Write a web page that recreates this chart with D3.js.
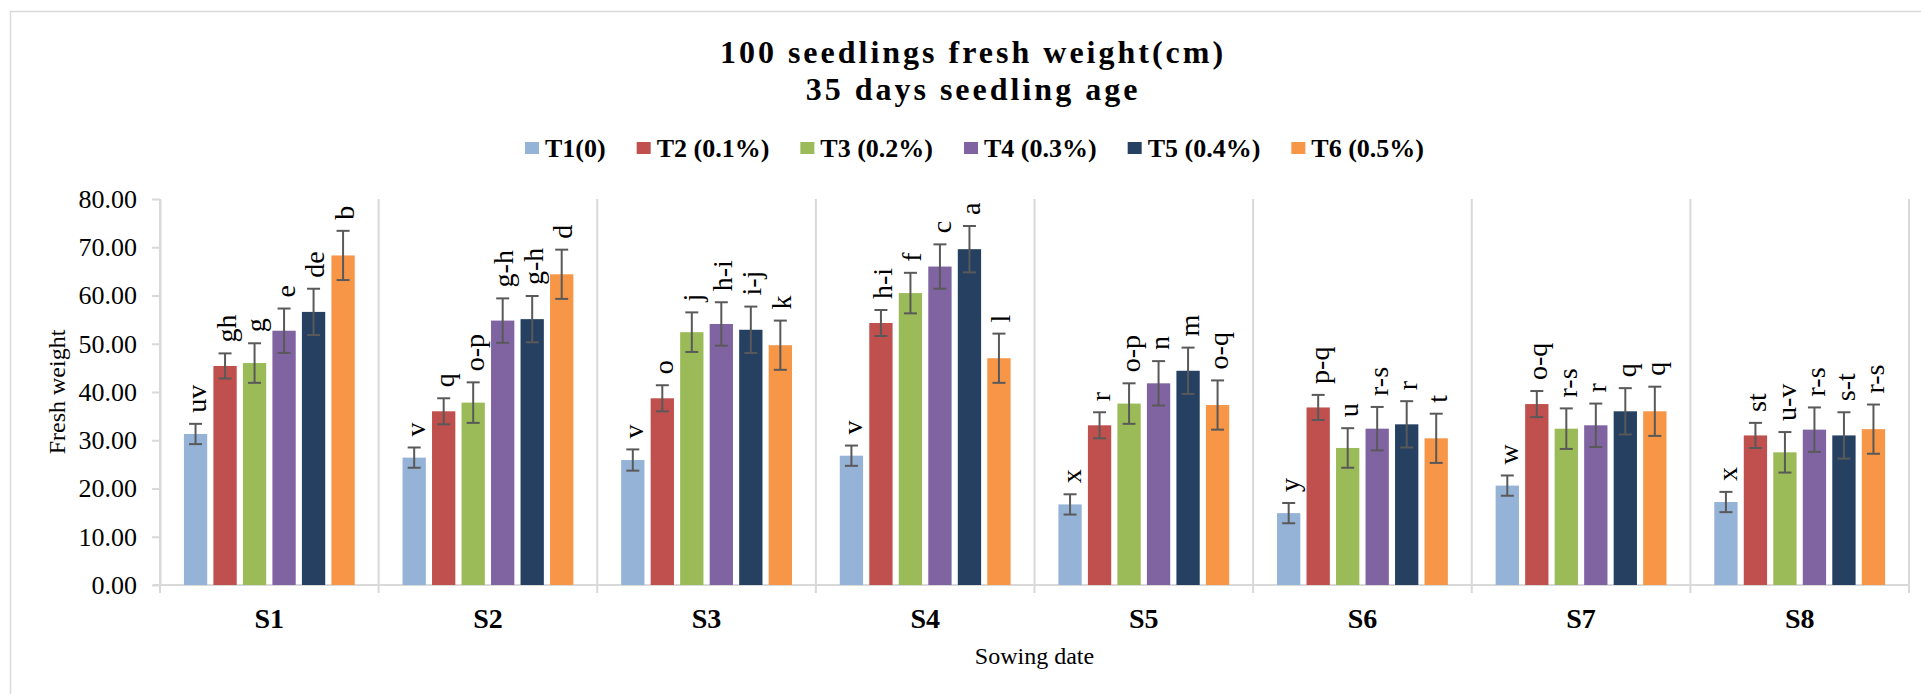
<!DOCTYPE html>
<html>
<head>
<meta charset="utf-8">
<script src="https://cdnjs.cloudflare.com/ajax/libs/d3/7.8.5/d3.min.js"></script>
<style>
  body { margin: 0; background: #fff; }
  svg text { font-family: "Liberation Serif", "Times New Roman", serif; fill: #000; }
</style>
</head>
<body>
<div id="chart"></div>
<script>
// sowing dates and treatments
var categories = ["S1", "S2", "S3", "S4", "S5", "S6", "S7", "S8"];
var seriesNames = ["T1(0)", "T2 (0.1%)", "T3 (0.2%)", "T4 (0.3%)", "T5 (0.4%)", "T6 (0.5%)"];
var colors = ["#95b3d7", "#c0504d", "#9bbb59", "#8064a2", "#254061", "#f79646"];

// fresh weight per treatment, one value per sowing date
var t1 = [31.3, 26.4, 25.9, 26.8, 16.7, 14.9, 20.6, 17.2];
var t2 = [45.4, 36.0, 38.7, 54.3, 33.1, 36.8, 37.5, 31.0];
var t3 = [46.0, 37.8, 52.4, 60.5, 37.6, 28.4, 32.4, 27.5];
var t4 = [52.7, 54.8, 54.1, 66.0, 41.8, 32.4, 33.1, 32.2];
var t5 = [56.6, 55.1, 52.9, 69.6, 44.4, 33.3, 36.0, 31.0];
var t6 = [68.3, 64.4, 49.7, 47.0, 37.3, 30.4, 36.0, 32.3];

// error bar half lengths
var e1 = [2.1, 2.1, 2.2, 2.1, 2.1, 2.1, 2.1, 2.1];
var e2 = [2.6, 2.7, 2.7, 2.7, 2.7, 2.6, 2.7, 2.6];
var e3 = [4.1, 4.2, 4.1, 4.2, 4.2, 4.1, 4.2, 4.2];
var e4 = [4.6, 4.6, 4.5, 4.6, 4.6, 4.5, 4.5, 4.6];
var e5 = [4.8, 4.8, 4.8, 4.8, 4.8, 4.8, 4.8, 4.8];
var e6 = [5.1, 5.1, 5.1, 5.1, 5.1, 5.1, 5.1, 5.1];

// significance letters
var l1 = ["uv", "v", "v", "v", "x", "y", "w", "x"];
var l2 = ["gh", "q", "o", "h-i", "r", "p-q", "o-q", "st"];
var l3 = ["g", "o-p", "j", "f", "o-p", "u", "r-s", "u-v"];
var l4 = ["e", "g-h", "h-i", "c", "n", "r-s", "r", "r-s"];
var l5 = ["de", "g-h", "i-j", "a", "m", "r", "q", "s-t"];
var l6 = ["b", "d", "k", "l", "o-q", "t", "q", "r-s"];

var yTicks = [0, 10, 20, 30, 40, 50, 60, 70, 80];

var values = [t1, t2, t3, t4, t5, t6];
var errors = [e1, e2, e3, e4, e5, e6];
var letters = [l1, l2, l3, l4, l5, l6];

var svgWidth = 1921;
var svgHeight = 694;

var margin = { top: 199, right: 12, bottom: 109, left: 160 };
var width = svgWidth - margin.left - margin.right;
var height = svgHeight - margin.top - margin.bottom;

var serif = "'Liberation Serif', 'Times New Roman', serif";

var svg = d3.select("#chart")
  .append("svg")
  .attr("width", svgWidth)
  .attr("height", svgHeight)
  .attr("font-family", serif);

// chart border
svg.append("rect")
  .attr("x", 10.5)
  .attr("y", 11.5)
  .attr("width", 1930)
  .attr("height", 700)
  .attr("fill", "#fff")
  .attr("stroke", "#d9d9d9")
  .attr("stroke-width", 1.5);

// title
var title = svg.append("text")
  .attr("text-anchor", "middle")
  .style("font-family", serif)
  .style("font-size", "32px")
  .style("font-weight", "bold")
  .style("letter-spacing", "3px");
title.append("tspan").attr("x", 973).attr("y", 63).text("100 seedlings fresh weight(cm)");
title.append("tspan").attr("x", 973).attr("y", 100).text("35 days seedling age");

// legend
var legend = svg.append("g").attr("transform", "translate(525, 148)");
var lx = 0;
seriesNames.forEach(function(name, i) {
  var item = legend.append("g").attr("transform", `translate(${lx}, 0)`);
  item.append("rect")
    .attr("x", 0)
    .attr("y", -6)
    .attr("width", 14)
    .attr("height", 12)
    .attr("fill", colors[i]);
  var t = item.append("text")
    .attr("x", 20)
    .attr("y", 9)
    .style("font-family", serif)
    .style("font-size", "26px")
    .style("font-weight", "bold")
    .text(name);
  lx += 20 + t.node().getComputedTextLength() + 31;
});

var chartGroup = svg.append("g")
  .attr("transform", `translate(${margin.left}, ${margin.top})`);

// scales
var x0 = d3.scaleBand()
  .domain(categories)
  .range([0, width]);

var x1 = d3.scaleBand()
  .domain(d3.range(seriesNames.length))
  .range([0, x0.bandwidth()])
  .paddingInner(0.21)
  .paddingOuter(0.81);

var yLinearScale = d3.scaleLinear()
  .domain([0, 80])
  .range([height, 0]);

// category separators
var seps = categories.map(d => x0(d)).concat([width]);
chartGroup.selectAll(".sep")
  .data(seps)
  .enter()
  .append("line")
  .attr("x1", d => d)
  .attr("x2", d => d)
  .attr("y1", 0)
  .attr("y2", height + 8)
  .attr("stroke", "#d9d9d9")
  .attr("stroke-width", 2);

// x axis line
chartGroup.append("line")
  .attr("x1", -7)
  .attr("x2", width)
  .attr("y1", height)
  .attr("y2", height)
  .attr("stroke", "#d9d9d9")
  .attr("stroke-width", 2);

// y axis
var leftAxis = d3.axisLeft(yLinearScale)
  .tickValues(yTicks)
  .tickFormat(d3.format(".2f"))
  .tickSize(8)
  .tickSizeOuter(0)
  .tickPadding(15);

var yAxis = chartGroup.append("g").call(leftAxis).attr("font-family", serif);
yAxis.select(".domain").attr("stroke", "#d9d9d9").attr("stroke-width", 2);
yAxis.selectAll(".tick line").attr("stroke", "#d9d9d9").attr("stroke-width", 2);
yAxis.selectAll(".tick text")
  .style("font-size", "26px")
  .style("font-family", serif)
  .attr("fill", "#000");

// category labels
chartGroup.selectAll(".cat")
  .data(categories)
  .enter()
  .append("text")
  .attr("x", d => x0(d) + x0.bandwidth() / 2)
  .attr("y", height + 43)
  .attr("text-anchor", "middle")
  .style("font-size", "28px")
  .style("font-weight", "bold")
  .text(d => d);

// axis titles
chartGroup.append("text")
  .attr("x", width / 2)
  .attr("y", height + 79)
  .attr("text-anchor", "middle")
  .style("font-size", "24px")
  .text("Sowing date");

chartGroup.append("text")
  .attr("transform", `translate(${65 - margin.left}, ${height / 2}) rotate(-90)`)
  .attr("text-anchor", "middle")
  .style("font-size", "24px")
  .text("Fresh weight");

// bars, error bars and letters
var flat = [];
categories.forEach(function(cat, ci) {
  seriesNames.forEach(function(s, si) {
    flat.push({ cat: cat, s: si, v: values[si][ci], e: errors[si][ci], l: letters[si][ci] });
  });
});

var cx = d => x0(d.cat) + x1(d.s) + x1.bandwidth() / 2;

chartGroup.selectAll(".bar")
  .data(flat)
  .enter()
  .append("rect")
  .attr("x", d => x0(d.cat) + x1(d.s))
  .attr("y", d => yLinearScale(d.v))
  .attr("width", x1.bandwidth())
  .attr("height", d => height - yLinearScale(d.v))
  .attr("fill", d => colors[d.s]);

var err = chartGroup.selectAll(".err")
  .data(flat)
  .enter()
  .append("g")
  .attr("stroke", "#595959")
  .attr("stroke-width", 2);

err.append("line")
  .attr("x1", cx).attr("x2", cx)
  .attr("y1", d => yLinearScale(d.v + d.e))
  .attr("y2", d => yLinearScale(d.v - d.e));
err.append("line")
  .attr("x1", d => cx(d) - 6.5).attr("x2", d => cx(d) + 6.5)
  .attr("y1", d => yLinearScale(d.v + d.e))
  .attr("y2", d => yLinearScale(d.v + d.e));
err.append("line")
  .attr("x1", d => cx(d) - 6.5).attr("x2", d => cx(d) + 6.5)
  .attr("y1", d => yLinearScale(d.v - d.e))
  .attr("y2", d => yLinearScale(d.v - d.e));

chartGroup.selectAll(".lbl")
  .data(flat)
  .enter()
  .append("text")
  .attr("transform", d => `translate(${cx(d)}, ${yLinearScale(d.v + d.e) - 11}) rotate(-90)`)
  .attr("dy", "0.38em")
  .style("font-size", "28px")
  .text(d => d.l);
</script>
</body>
</html>
